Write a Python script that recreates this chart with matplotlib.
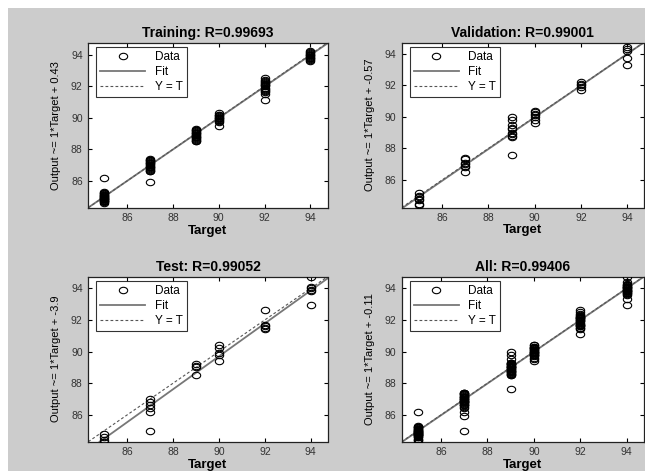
import matplotlib
matplotlib.use('Agg')
import matplotlib.pyplot as plt
import numpy as np
from matplotlib.path import Path
from matplotlib.transforms import Affine2D
from matplotlib.patches import Rectangle

plt.rcParams['font.family'] = ['Liberation Sans', 'DejaVu Sans']

# Target classes (same for every panel)
targets = [85, 87, 89, 90, 92, 94]

# Network outputs per target
train_outputs = [
    [84.6, 84.65, 84.7, 84.72, 84.75, 84.8, 84.82, 84.85, 84.88, 84.9, 84.93, 84.95,
     85.0, 85.02, 85.05, 85.08, 85.1, 85.15, 85.2, 85.25, 85.3, 86.2],
    [86.6, 86.65, 86.7, 86.75, 86.8, 86.85, 86.9, 86.95, 87.0, 87.05, 87.1, 87.15,
     87.2, 87.25, 87.3, 87.35, 87.4, 85.9],
    [88.5, 88.55, 88.6, 88.65, 88.7, 88.75, 88.8, 88.85, 88.9, 88.95, 89.0, 89.05,
     89.1, 89.15, 89.2, 89.25, 89.3],
    [89.5, 89.7, 89.8, 89.85, 89.9, 89.95, 90.0, 90.05, 90.1, 90.15, 90.2, 90.3],
    [91.1, 91.5, 91.6, 91.7, 91.75, 91.8, 91.9, 92.0, 92.05, 92.1, 92.15, 92.2,
     92.25, 92.3, 92.4, 92.5],
    [93.6, 93.65, 93.7, 93.75, 93.8, 93.85, 93.9, 93.95, 94.0, 94.05, 94.1, 94.15, 94.2],
]
val_outputs = [
    [85.2, 85.0, 84.9, 84.8, 84.7, 84.5, 84.4],
    [87.4, 87.3, 87.1, 87.0, 86.9, 86.8, 86.5],
    [90.0, 89.8, 89.5, 89.3, 89.2, 89.0, 88.9, 88.8, 88.7, 87.6],
    [90.4, 90.3, 90.2, 90.1, 90.0, 89.8, 89.6],
    [92.2, 92.1, 92.0, 91.9, 91.7],
    [94.4, 94.3, 94.2, 93.7, 93.3],
]
test_outputs = [
    [84.8, 84.6, 84.4, 84.3],
    [87.0, 86.8, 86.6, 86.4, 86.2, 84.95],
    [89.2, 89.1, 89.0, 88.5],
    [90.4, 90.2, 89.9, 89.8, 89.4],
    [92.6, 91.7, 91.6, 91.5, 91.4],
    [94.7, 94.1, 94.0, 93.9, 93.8, 92.95],
]

# Fit coefficients (slope, intercept) as drawn
fit_train = (0.995, 0.43)
fit_val = (1.006, -0.57)
fit_test = (1.04, -3.9)
fit_all = (1.001, -0.11)

titles = ['Training: R=0.99693', 'Validation: R=0.99001', 'Test: R=0.99052', 'All: R=0.99406']
ylabels = ['Output ~= 1*Target + 0.43', 'Output ~= 1*Target + -0.57',
           'Output ~= 1*Target + -3.9', 'Output ~= 1*Target + -0.11']
limits = [(84.3, 94.75), (84.25, 94.7), (84.3, 94.73), (84.3, 94.73)]
xticks = [86, 88, 90, 92, 94]


def flatten(outputs):
    xs, ys = [], []
    for t, outs in zip(targets, outputs):
        xs += [t] * len(outs)
        ys += outs
    return xs, ys


all_outputs = [a + b + c for a, b, c in zip(train_outputs, val_outputs, test_outputs)]
panels = [
    (train_outputs, fit_train),
    (val_outputs, fit_val),
    (test_outputs, fit_test),
    (all_outputs, fit_all),
]

# slightly wide circle marker, like the stretched picture
ellipse = Path.unit_circle().transformed(Affine2D().scale(1.3, 1.0))

W, H = 645, 471
fig = plt.figure(figsize=(W / 100, H / 100), dpi=100)
fig.patch.set_facecolor('white')
fig.patches.append(Rectangle((8 / W, 0), 1, 1 - 8 / H, transform=fig.transFigure,
                             facecolor='#cccccc', edgecolor='none', zorder=-10))

boxes = [
    (88.3, 42.7, 327.5, 207.7),
    (401.7, 42.7, 643.5, 207.5),
    (88.3, 276.7, 327.5, 441.7),
    (401.7, 276.7, 643.5, 441.7),
]

for i, (outputs, fit) in enumerate(panels):
    l, t, r, b = boxes[i]
    ax = fig.add_axes([l / W, 1 - b / H, (r - l) / W, (b - t) / H])
    lo, hi = limits[i]
    xs, ys = flatten(outputs)

    ax.plot(xs, ys, linestyle='none', marker=ellipse, markersize=6,
            markerfacecolor='none', markeredgecolor='black', markeredgewidth=0.8,
            label='Data', zorder=3)
    line_x = np.array([lo, hi])
    ax.plot(line_x, fit[0] * line_x + fit[1], color='#777777', linewidth=1.3,
            label='Fit', zorder=2)
    ax.plot(line_x, line_x, color='#555555', linestyle=(0, (2.5, 2)), linewidth=0.8,
            label='Y = T', zorder=2)

    ax.set_xlim(lo, hi)
    ax.set_ylim(lo, hi)
    ax.set_xticks(xticks)
    ax.set_yticks(xticks)
    ax.tick_params(direction='in', length=3, width=0.8, top=True, right=True,
                   labelsize=7.5, labelcolor='#333333', pad=4)
    for s in ax.spines.values():
        s.set_linewidth(0.9)
        s.set_color('#222222')

    ax.set_title(titles[i], fontsize=10, fontweight='bold', pad=4)
    ax.set_xlabel('Target', fontsize=9.5, fontweight='bold', labelpad=1)
    ax.set_ylabel(ylabels[i], fontsize=8, labelpad=7)

    leg = ax.legend(loc='upper left', bbox_to_anchor=(0.033, 0.972), borderaxespad=0,
                    fontsize=8.5, frameon=True, fancybox=False, numpoints=1,
                    handlelength=3.8, handletextpad=0.8, labelspacing=0.22,
                    borderpad=0.35)
    leg.get_frame().set_edgecolor('black')
    leg.get_frame().set_linewidth(0.8)

fig.savefig('out.png', dpi=100)
